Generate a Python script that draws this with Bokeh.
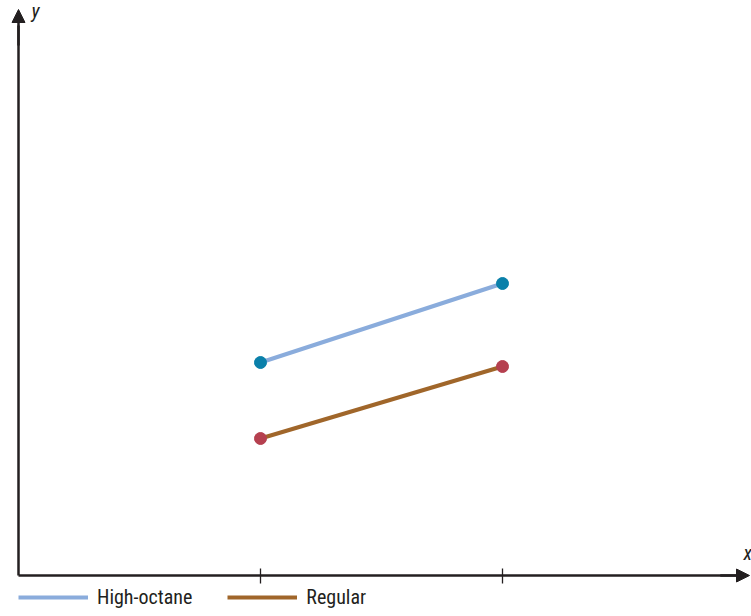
from bokeh.plotting import figure
from bokeh.models import (LinearAxis, FixedTicker, Arrow, NormalHead, Legend,
                          LegendItem, Label, Range1d)
from bokeh.embed import file_html
from bokeh.resources import INLINE

# ---- data ----
x_vals = [1, 2]
high_octane = [2.13, 2.92]
regular = [1.37, 2.09]
series_names = ["High-octane", "Regular"]
x_ticks = [1, 2]

FONT = "Roboto Condensed"
AXIS_COLOR = "#231f20"

W, H = 751, 616
X0, Y0 = 18, 575          # pixel position of the origin
XU, YU = 242, 100         # pixels per data unit
p = figure(width=W, height=H, output_backend="svg", toolbar_location=None,
           x_axis_type=None, y_axis_type=None, min_border=0,
           x_range=Range1d(-X0 / XU, (W - X0) / XU),
           y_range=Range1d(-(H - Y0) / YU, Y0 / YU))
p.grid.visible = False
p.outline_line_color = None
p.background_fill_color = "white"
p.border_fill_color = "white"

# axes placed at the origin
xaxis = LinearAxis(fixed_location=0, ticker=FixedTicker(ticks=x_ticks),
                   bounds=(0, 3.0), axis_line_width=2.5, axis_line_color=AXIS_COLOR,
                   major_tick_in=7, major_tick_out=8, major_tick_line_width=1.3,
                   major_tick_line_color=AXIS_COLOR, minor_tick_line_color=None,
                   major_label_text_color=None)
yaxis = LinearAxis(fixed_location=0, ticker=FixedTicker(ticks=[]),
                   bounds=(0, 5.5), axis_line_width=2.5, axis_line_color=AXIS_COLOR,
                   major_tick_line_color=None, minor_tick_line_color=None,
                   major_label_text_color=None)
p.add_layout(xaxis, "below")
p.add_layout(yaxis, "left")

# arrow heads
p.add_layout(Arrow(x_start=2.9, y_start=0, x_end=(749 - X0) / XU, y_end=0,
                   line_width=2.5, line_color=AXIS_COLOR,
                   end=NormalHead(size=13, line_color=AXIS_COLOR, fill_color=AXIS_COLOR)))
p.add_layout(Arrow(x_start=0, y_start=5.3, x_end=0, y_end=(Y0 - 9) / YU,
                   line_width=2.5, line_color=AXIS_COLOR,
                   end=NormalHead(size=13, line_color=AXIS_COLOR, fill_color=AXIS_COLOR)))

# series
l_hi = p.line(x_vals, high_octane, line_color="#8aacdc", line_width=4)
l_rg = p.line(x_vals, regular, line_color="#a0662a", line_width=4)
p.scatter(x_vals, high_octane, size=12, fill_color="#0a80aa", line_color="#0a80aa")
p.scatter(x_vals, regular, size=12, fill_color="#b5404f", line_color="#b5404f")

legend = Legend(items=[LegendItem(label=series_names[0], renderers=[l_hi]),
                       LegendItem(label=series_names[1], renderers=[l_rg])],
                orientation="horizontal", location=(18, 7),
                padding=0, margin=0, spacing=35, border_line_color=None,
                background_fill_alpha=0, glyph_width=70, glyph_height=18,
                label_height=18, label_standoff=9,
                label_text_font=FONT, label_text_font_size="20px",
                label_text_color=AXIS_COLOR)
p.add_layout(legend)

p.add_layout(Label(x=31, y=594, x_units="screen", y_units="screen", text="y",
                   text_font=FONT, text_font_style="italic", text_font_size="20px",
                   text_color=AXIS_COLOR))
p.add_layout(Label(x=743, y=52, x_units="screen", y_units="screen", text="x",
                   text_font=FONT, text_font_style="italic", text_font_size="20px",
                   text_color=AXIS_COLOR))

open("out.html", "w").write(file_html(p, INLINE))
